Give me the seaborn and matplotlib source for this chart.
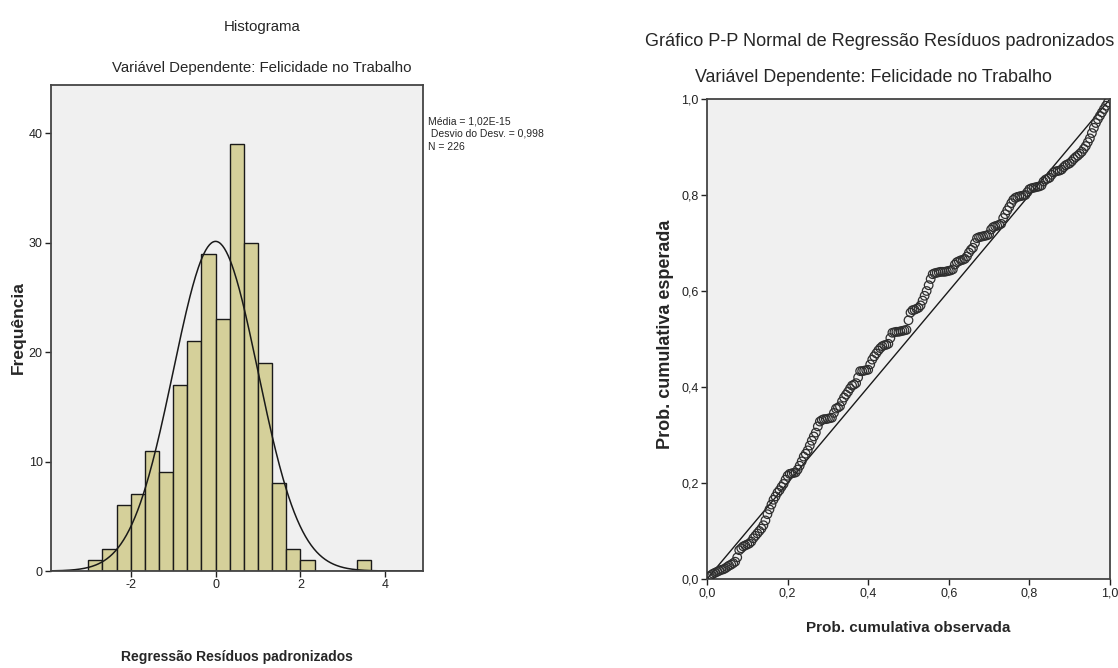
import numpy as np
import pandas as pd
import matplotlib
matplotlib.use("Agg")
import matplotlib.pyplot as plt
import seaborn as sns

# histogram of standardized residuals
bin_start = -3.0
bin_width = 1 / 3
counts = [1, 2, 6, 7, 11, 9, 17, 21, 29, 23, 39, 30, 19, 8, 2, 1, 0, 0, 0, 1]
res_mean = 1.02e-15
res_sd = 0.998
n_obs = 226
stats_lines = ["Média = 1,02E-15", " Desvio do Desv. = 0,998", "N = 226"]
hist_xticks = [-2, 0, 2, 4]
hist_yticks = [0, 10, 20, 30, 40]

pp_obs = [0.005, 0.010, 0.015, 0.020, 0.025, 0.030, 0.035, 0.040, 0.045, 0.050,
          0.055, 0.060, 0.065, 0.070, 0.075, 0.080, 0.085, 0.090, 0.095, 0.100,
          0.105, 0.110, 0.115, 0.120, 0.125, 0.130, 0.135, 0.140, 0.145, 0.150,
          0.155, 0.160, 0.165, 0.170, 0.175, 0.180, 0.185, 0.190, 0.195, 0.200,
          0.205, 0.210, 0.215, 0.220, 0.225, 0.230, 0.235, 0.240, 0.245, 0.250,
          0.255, 0.260, 0.265, 0.270, 0.275, 0.280, 0.285, 0.290, 0.295, 0.300,
          0.305, 0.310, 0.315, 0.320, 0.325, 0.330, 0.335, 0.340, 0.345, 0.350,
          0.355, 0.360, 0.365, 0.370, 0.375, 0.380, 0.385, 0.390, 0.395, 0.400,
          0.405, 0.410, 0.415, 0.420, 0.425, 0.430, 0.435, 0.440, 0.445, 0.450,
          0.455, 0.460, 0.465, 0.470, 0.475, 0.480, 0.485, 0.490, 0.495, 0.500,
          0.505, 0.510, 0.515, 0.520, 0.525, 0.530, 0.535, 0.540, 0.545, 0.550,
          0.555, 0.560, 0.565, 0.570, 0.575, 0.580, 0.585, 0.590, 0.595, 0.600,
          0.605, 0.610, 0.615, 0.620, 0.625, 0.630, 0.635, 0.640, 0.645, 0.650,
          0.655, 0.660, 0.665, 0.670, 0.675, 0.680, 0.685, 0.690, 0.695, 0.700,
          0.705, 0.710, 0.715, 0.720, 0.725, 0.730, 0.735, 0.740, 0.745, 0.750,
          0.755, 0.760, 0.765, 0.770, 0.775, 0.780, 0.785, 0.790, 0.795, 0.800,
          0.805, 0.810, 0.815, 0.820, 0.825, 0.830, 0.835, 0.840, 0.845, 0.850,
          0.855, 0.860, 0.865, 0.870, 0.875, 0.880, 0.885, 0.890, 0.895, 0.900,
          0.905, 0.910, 0.915, 0.920, 0.925, 0.930, 0.935, 0.940, 0.945, 0.950,
          0.955, 0.960, 0.965, 0.970, 0.975, 0.980, 0.985, 0.990, 0.995]
pp_exp = [0.005, 0.008, 0.011, 0.013, 0.015, 0.017, 0.019, 0.020, 0.022, 0.025,
          0.028, 0.030, 0.033, 0.036, 0.045, 0.060, 0.064, 0.068, 0.070, 0.072,
          0.074, 0.078, 0.085, 0.090, 0.095, 0.100, 0.105, 0.112, 0.122, 0.135,
          0.145, 0.155, 0.165, 0.172, 0.180, 0.185, 0.192, 0.198, 0.207, 0.215,
          0.219, 0.220, 0.221, 0.222, 0.228, 0.236, 0.245, 0.255, 0.261, 0.268,
          0.278, 0.288, 0.297, 0.305, 0.318, 0.328, 0.331, 0.333, 0.333, 0.334,
          0.335, 0.336, 0.346, 0.355, 0.357, 0.360, 0.370, 0.378, 0.384, 0.390,
          0.397, 0.403, 0.405, 0.408, 0.420, 0.433, 0.433, 0.434, 0.435, 0.436,
          0.447, 0.457, 0.464, 0.470, 0.476, 0.481, 0.485, 0.487, 0.488, 0.490,
          0.502, 0.513, 0.514, 0.515, 0.515, 0.516, 0.517, 0.518, 0.519, 0.539,
          0.555, 0.560, 0.561, 0.563, 0.565, 0.570, 0.580, 0.590, 0.600, 0.612,
          0.625, 0.635, 0.637, 0.638, 0.639, 0.640, 0.640, 0.640, 0.641, 0.642,
          0.643, 0.645, 0.655, 0.660, 0.662, 0.664, 0.665, 0.667, 0.672, 0.680,
          0.686, 0.690, 0.700, 0.710, 0.712, 0.713, 0.714, 0.715, 0.716, 0.718,
          0.728, 0.733, 0.735, 0.736, 0.738, 0.740, 0.752, 0.760, 0.768, 0.775,
          0.783, 0.790, 0.794, 0.796, 0.797, 0.798, 0.799, 0.800, 0.806, 0.812,
          0.814, 0.815, 0.816, 0.817, 0.818, 0.820, 0.828, 0.832, 0.834, 0.836,
          0.842, 0.847, 0.849, 0.850, 0.851, 0.853, 0.858, 0.862, 0.864, 0.866,
          0.870, 0.875, 0.879, 0.882, 0.886, 0.890, 0.896, 0.902, 0.910, 0.918,
          0.929, 0.940, 0.950, 0.958, 0.965, 0.972, 0.979, 0.986, 0.993]
pp_ticks = [0.0, 0.2, 0.4, 0.6, 0.8, 1.0]

sns.set_style("ticks")
plt.rcParams['font.family'] = ['Liberation Sans', 'DejaVu Sans']
plt.rcParams['axes.facecolor'] = '#F0F0F0'
plt.rcParams['axes.edgecolor'] = '#444444'

fig = plt.figure(figsize=(11.18, 6.68), dpi=100)
ax1 = fig.add_axes([51 / 1118, 1 - 571 / 668, 372 / 1118, 486 / 668])
ax2 = fig.add_axes([707 / 1118, 1 - 579 / 668, 403 / 1118, 480 / 668])

# --- histogram ---
edges = [bin_start + bin_width * k for k in range(len(counts) + 1)]
centers = [e + bin_width / 2 for e in edges[:-1]]
hist_df = pd.DataFrame({'x': centers, 'n': counts})
sns.histplot(data=hist_df, x='x', weights='n', bins=edges, ax=ax1,
             color='#D5D09A', edgecolor='#1a1a1a', linewidth=1.0, alpha=1)

# fitted normal curve from the reported mean / sd
xs = np.linspace(-3.88, 4.89, 400)
ys = n_obs * bin_width * np.exp(-0.5 * ((xs - res_mean) / res_sd) ** 2) / (res_sd * np.sqrt(2 * np.pi))
sns.lineplot(x=xs, y=ys, ax=ax1, color='#1a1a1a', linewidth=1.1)

ax1.set_xlim(-3.88, 4.89)
ax1.set_ylim(0, 44.4)
ax1.set_xticks(hist_xticks)
ax1.set_yticks(hist_yticks)
ax1.set_xticklabels([str(t) for t in hist_xticks])
ax1.set_xlabel('')
ax1.set_ylabel('')

fig.text(262 / 1118, 1 - 27 / 668, 'Histograma', ha='center', va='center', fontsize=10.8)
fig.text(262 / 1118, 1 - 68 / 668, 'Variável Dependente: Felicidade no Trabalho',
         ha='center', va='center', fontsize=10.8)
fig.text(237 / 1118, 1 - 657 / 668, 'Regressão Resíduos padronizados', ha='center', va='center',
         fontsize=10, fontweight='bold')
fig.text(18 / 1118, 1 - 328 / 668, 'Frequência', ha='center', va='center', rotation=90,
         fontsize=12.5, fontweight='bold')
for i, line in enumerate(stats_lines):
    fig.text(428 / 1118, 1 - (121 + i * 13) / 668, line, ha='left', va='center', fontsize=7.5)

# --- P-P plot ---
sns.lineplot(x=[0, 1], y=[0, 1], ax=ax2, color='#1a1a1a', linewidth=1.0)
sns.scatterplot(x=pp_obs, y=pp_exp, ax=ax2, marker='o', s=38, facecolor='none',
                edgecolor='#2e2e2e', linewidth=0.9, zorder=3)
ax2.set_xlim(0, 1)
ax2.set_ylim(0, 1)
ax2.set_xticks(pp_ticks)
ax2.set_yticks(pp_ticks)
tick_lbls = [f'{t:.1f}'.replace('.', ',') for t in pp_ticks]
ax2.set_xticklabels(tick_lbls)
ax2.set_yticklabels(tick_lbls)
ax2.set_xlabel('')
ax2.set_ylabel('')

fig.text(880 / 1118, 1 - 41 / 668, 'Gráfico P-P Normal de Regressão Resíduos padronizados',
         ha='center', va='center', fontsize=13.1)
fig.text(873 / 1118, 1 - 78 / 668, 'Variável Dependente: Felicidade no Trabalho',
         ha='center', va='center', fontsize=12.9)
fig.text(908 / 1118, 1 - 628 / 668, 'Prob. cumulativa observada', ha='center', va='center',
         fontsize=11, fontweight='bold')
fig.text(665 / 1118, 1 - 334 / 668, 'Prob. cumulativa esperada', ha='center', va='center',
         rotation=90, fontsize=13, fontweight='bold')

for ax in (ax1, ax2):
    for sp in ax.spines.values():
        sp.set_visible(True)
        sp.set_linewidth(1.3)
    ax.tick_params(direction='out', length=4, width=1, labelsize=9, colors='#222222', pad=2)

fig.savefig('out.png', dpi=100)
